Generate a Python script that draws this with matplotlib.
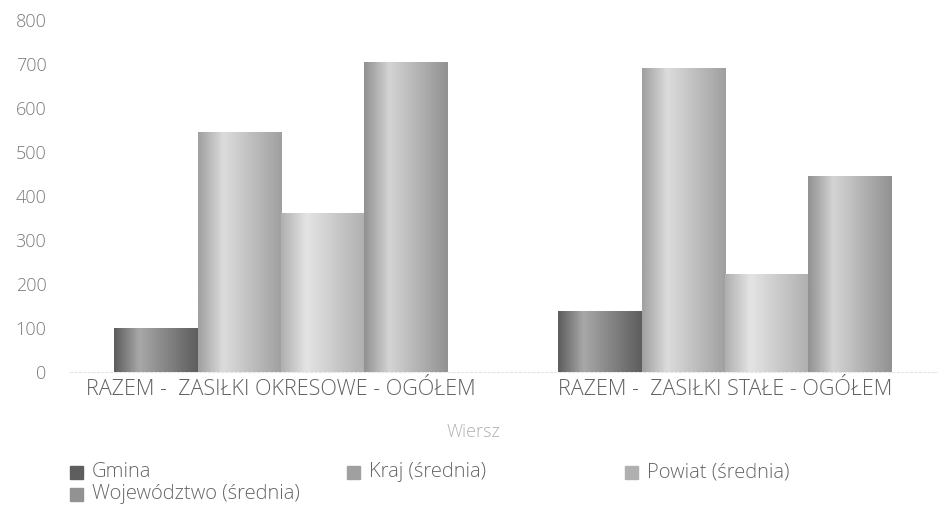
import numpy as np
import matplotlib
matplotlib.use("Agg")
import matplotlib.pyplot as plt
from matplotlib.patches import Rectangle

categories = ["RAZEM -  ZASIŁKI OKRESOWE - OGÓŁEM", "RAZEM -  ZASIŁKI STAŁE - OGÓŁEM"]
series = ["Gmina", "Kraj (średnia)", "Powiat (średnia)", "Województwo (średnia)"]
gmina = [100, 139]
kraj = [545, 691]
powiat = [361, 223]
wojewodztwo = [705, 445]
values = [gmina, kraj, powiat, wojewodztwo]
yticks = [0, 100, 200, 300, 400, 500, 600, 700, 800]

# (light, dark) shade for each series gradient
shades = [("#a8a8a8", "#5e5e5e"), ("#dcdcdc", "#a0a0a0"),
          ("#e4e4e4", "#b0b0b0"), ("#d4d4d4", "#929292")]

plt.rcParams['font.family'] = ['Open Sans', 'DejaVu Sans']
plt.rcParams['font.weight'] = 'light'
TXT = "#7a7a7a"

fig = plt.figure(figsize=(9.38, 5.15), dpi=100)
ax = fig.add_axes([70 / 938, 1 - 372 / 515, 868 / 938, 352 / 515])

x = np.arange(len(categories))
width = 0.1875
for i, (name, vals) in enumerate(zip(series, values)):
    pos = x - 1.5 * width + i * width
    bars = ax.bar(pos, vals, width, color=shades[i][1], label=name, zorder=2)
    # light band left of centre, darker towards the right edge
    cmap = matplotlib.colors.LinearSegmentedColormap.from_list(
        "g", [(0, shades[i][1]), (0.3, shades[i][0]), (1, shades[i][1])])
    grad = np.linspace(0, 1, 64).reshape(1, -1)
    for b in bars:
        bx, by = b.get_x(), b.get_y()
        im = ax.imshow(grad, cmap=cmap, aspect="auto", zorder=3,
                       extent=[bx, bx + b.get_width(), by, by + b.get_height()])
        im.set_clip_path(b)

ax.set_xlim(-0.475, 1.48)
ax.set_ylim(0, 800)
ax.set_yticks(yticks)
ax.set_yticklabels([str(t) for t in yticks])
ax.set_xticks(x)
ax.set_xticklabels(categories)
ax.tick_params(axis="y", length=0, pad=17, labelsize=13, labelcolor=TXT)
ax.tick_params(axis="x", length=0, pad=5, labelsize=15.5, labelcolor="#606060")
for s in ["top", "right", "left"]:
    ax.spines[s].set_visible(False)
ax.spines["bottom"].set_color("#e4e4e4")
ax.spines["bottom"].set_linestyle((0, (2, 2)))

fig.text(473 / 938, 1 - 432 / 515, "Wiersz", ha="center", va="center",
         fontsize=13, color="#b0b0b0")

leg_x = [76, 353, 631]
for i, name in enumerate(series):
    col = i % 3
    row = i // 3
    lx = leg_x[col] / 938
    ly = 1 - (472 + row * 22) / 515
    fig.patches.append(Rectangle((lx - 6.5 / 938, ly - 6.5 / 515), 13 / 938, 13 / 515,
                                 transform=fig.transFigure, color=shades[i][1]))
    fig.text(lx + 16 / 938, ly, name, ha="left", va="center", fontsize=14.5, color="#666666")

fig.savefig("out.png", dpi=100)
